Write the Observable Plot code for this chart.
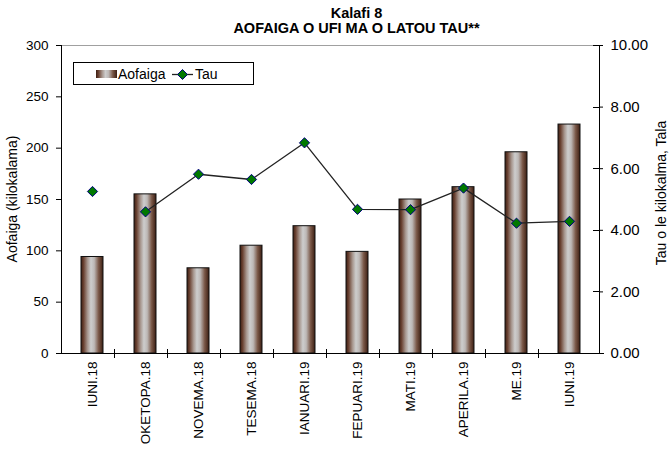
<!DOCTYPE html>
<html><head><meta charset="utf-8">
<script src="https://cdn.jsdelivr.net/npm/d3@7"></script>
<script src="https://cdn.jsdelivr.net/npm/@observablehq/plot@0.6"></script>
<style>
body{margin:0;background:#fff;}
#wrap{position:relative;width:671px;height:450px;overflow:hidden;font-family:"Liberation Sans",Arial,sans-serif;}
#title{position:absolute;left:21px;top:6px;width:671px;text-align:center;font-weight:bold;font-size:14.5px;line-height:15px;color:#000;}
#chart{position:absolute;left:0;top:0;}
</style></head><body>
<div id="wrap"><div id="chart"></div><div id="title">Kalafi 8<br>AOFAIGA O UFI MA O LATOU TAU**</div></div>
<script>
// ---- data ----
const months = ["IUNI.18","OKETOPA.18","NOVEMA.18","TESEMA.18","IANUARI.19","FEPUARI.19","MATI.19","APERILA.19","ME.19","IUNI.19"];
const aofaiga = [94, 155, 83, 105, 124, 99, 150, 162, 196, 223];
const tau = [5.26, 4.60, 5.82, 5.65, 6.84, 4.68, 4.67, 5.37, 4.23, 4.29];
const leftTicks = [0, 50, 100, 150, 200, 250, 300];
const rightTicks = [0, 2, 4, 6, 8, 10];
const RATIO = 30; // 10.00 Tala on the right axis lines up with 300 on the left axis

const data = months.map((m, i) => ({month: m, value: aofaiga[i], tau: tau[i], i}));

const gradStops = [
  [0, "#3c1e12"], [0.12, "#6a4232"], [0.3, "#a89890"], [0.45, "#cdcdcd"],
  [0.6, "#bdb8b6"], [0.8, "#7a5848"], [1, "#3c1e12"]
];
function defs() {
  const d = d3.create("svg:defs");
  const g = d.append("linearGradient").attr("id", "barGrad")
    .attr("x1", "0").attr("x2", "1").attr("y1", "0").attr("y2", "0");
  gradStops.forEach(([o, c]) => g.append("stop").attr("offset", o).attr("stop-color", c));
  return d.node();
}

const chart = Plot.plot({
  width: 671, height: 450,
  marginTop: 45, marginBottom: 97, marginLeft: 61, marginRight: 72,
  style: {fontFamily: "Liberation Sans, Arial, sans-serif", fontSize: "14px", color: "#000", background: "#fff"},
  x: {domain: months, paddingInner: 0.59, paddingOuter: 0.295, label: null},
  y: {domain: [0, 300], label: null},
  marks: [
    defs,
    Plot.barY(data, {x: "month", y: "value", fill: "url(#barGrad)", stroke: "#111", strokeWidth: 1}),
    Plot.line(data.filter(d => d.i > 0), {x: "month", y: d => d.tau * RATIO, stroke: "#222", strokeWidth: 1.3}),
    Plot.dot(data, {x: "month", y: d => d.tau * RATIO, symbol: "diamond2", r: 4.6, fill: "#007800", stroke: "#000080", strokeWidth: 1}),
    Plot.axisX({tickSize: 0, tickRotate: -90, tickPadding: 8, fontSize: 13.5, label: null}),
    Plot.axisY({ticks: leftTicks, tickSize: 5, tickPadding: 8, tickFormat: d => d, fontSize: 13.5, label: null}),
    Plot.axisY({anchor: "right", ticks: rightTicks.map(t => t * RATIO), tickFormat: d => (d / RATIO).toFixed(2), tickSize: 3, tickPadding: 8, fontSize: 15, label: null})
  ]
});
document.getElementById("chart").appendChild(chart);

// ---- decorations computed from the scales ----
const sx = chart.scale("x"), sy = chart.scale("y");
const svg = d3.select(chart);
const [x0, x1] = sx.range, [y0, y1] = sy.range; // y0 bottom, y1 top
const deco = svg.append("g");
deco.append("line").attr("x1", x0).attr("x2", x1).attr("y1", y1 + 0.5).attr("y2", y1 + 0.5).attr("stroke", "#a0a0a0");
deco.append("line").attr("x1", x0 + 0.5).attr("x2", x0 + 0.5).attr("y1", y1).attr("y2", y0).attr("stroke", "#000");
deco.append("line").attr("x1", x1 + 0.5).attr("x2", x1 + 0.5).attr("y1", y1).attr("y2", y0).attr("stroke", "#000");
deco.append("line").attr("x1", x0).attr("x2", x1 + 5).attr("y1", y0 + 0.5).attr("y2", y0 + 0.5).attr("stroke", "#000");
for (let k = 1; k < months.length; k++) {
  const bx = Math.round(x0 + k * sx.step) + 0.5;
  deco.append("line").attr("x1", bx).attr("x2", bx).attr("y1", y0 - 4).attr("y2", y0 + 5).attr("stroke", "#000");
}
rightTicks.forEach(t => {
  const ty = Math.round(sy.apply(t * RATIO)) + 0.5;
  deco.append("line").attr("x1", x1 - 6).attr("x2", x1 + 1).attr("y1", ty).attr("y2", ty).attr("stroke", "#000");
});
// axis titles
svg.append("text").attr("transform", `translate(17,${(y0 + y1) / 2}) rotate(-90)`)
  .attr("text-anchor", "middle").attr("font-size", 14).text("Aofaiga (kilokalama)");
svg.append("text").attr("transform", `translate(666,${(y0 + y1) / 2 - 6}) rotate(-90)`)
  .attr("text-anchor", "middle").attr("font-size", 14).text("Tau o le kilokalma, Tala");
// legend
const lg = svg.append("g").attr("font-size", 14).attr("text-anchor", "start");
lg.append("rect").attr("x", 73.5).attr("y", 62.5).attr("width", 180).attr("height", 22).attr("fill", "#fff").attr("stroke", "#000");
lg.append("rect").attr("x", 96).attr("y", 70).attr("width", 21).attr("height", 8).attr("fill", "url(#barGrad)");
lg.append("text").attr("x", 118).attr("y", 79).text("Aofaiga");
lg.append("line").attr("x1", 172).attr("x2", 193).attr("y1", 74.5).attr("y2", 74.5).attr("stroke", "#222").attr("stroke-width", 1.3);
lg.append("path").attr("d", d3.symbol(d3.symbolDiamond2, Math.PI * 4.5 * 4.5)()).attr("transform", "translate(182.5,74.5)")
  .attr("fill", "#007800").attr("stroke", "#000080");
lg.append("text").attr("x", 195).attr("y", 79).text("Tau");
</script>
</body></html>
